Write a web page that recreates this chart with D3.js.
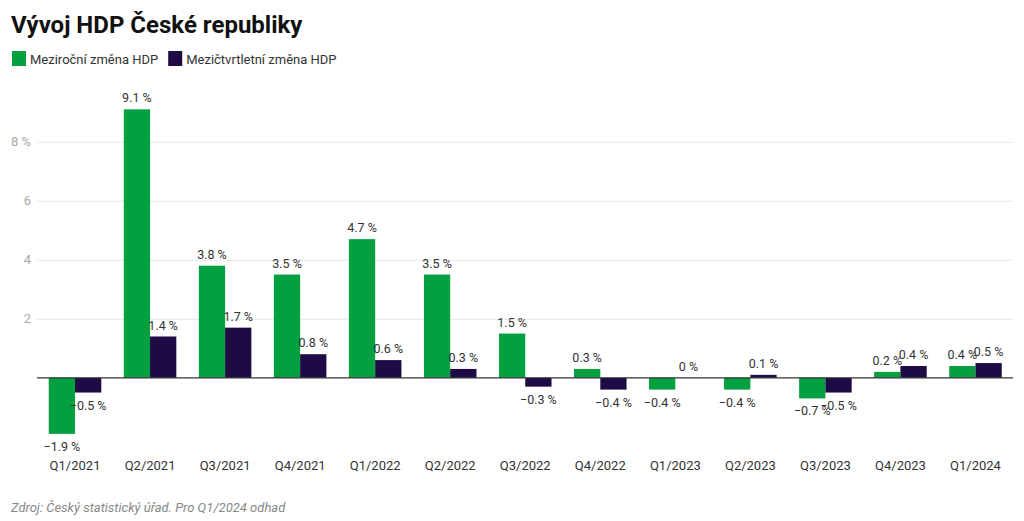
<!DOCTYPE html>
<html><head><meta charset="utf-8">
<script src="https://cdn.jsdelivr.net/npm/d3@7"></script>
<style>
html,body{margin:0;padding:0;background:#fff;}
svg{display:block;font-family:Roboto,"Noto Sans",sans-serif;}
</style></head>
<body><svg id="c" width="1024" height="521"></svg>
<script>
const categories = ["Q1/2021","Q2/2021","Q3/2021","Q4/2021","Q1/2022","Q2/2022","Q3/2022","Q4/2022","Q1/2023","Q2/2023","Q3/2023","Q4/2023","Q1/2024"];
const yoy = [-1.9, 9.1, 3.8, 3.5, 4.7, 3.5, 1.5, 0.3, -0.4, -0.4, -0.7, 0.2, 0.4];
const qoq = [-0.5, 1.4, 1.7, 0.8, 0.6, 0.3, -0.3, -0.4, 0, 0.1, -0.5, 0.4, 0.5];
const seriesNames = ["Meziroční změna HDP", "Mezičtvrtletní změna HDP"];
const yTicks = [2, 4, 6, 8];
const colors = ["#03a03f", "#1e0b46"];

const svg = d3.select("#c");
const x = d3.scaleBand().domain(categories).range([37.5, 1013]).paddingInner(0.3).paddingOuter(0.15);
const xs = d3.scaleBand().domain([0,1]).range([0, x.bandwidth()]);
const y = d3.scaleLinear().domain([0, 8]).range([377.8, 141.8]);

// title
svg.append("text").attr("x", 11).attr("y", 33).attr("font-size", 24).attr("font-weight", 700)
  .attr("fill", "#111").text("Vývoj HDP České republiky");

// legend
const lg = svg.append("g");
let lx = 12;
seriesNames.forEach((n, i) => {
  const g = lg.append("g").attr("transform", `translate(${lx},51)`);
  g.append("rect").attr("width", 14).attr("height", 15).attr("fill", colors[i]);
  const t = g.append("text").attr("x", 18).attr("y", 12.5).attr("font-size", 13).attr("fill", "#333").text(n);
  lx += 18 + t.node().getComputedTextLength() + 10;
});

// gridlines
const yAxis = d3.axisLeft(y).tickValues(yTicks).tickSize(-(1013 - 37)).tickFormat(d => d === 8 ? "8 %" : d);
const ga = svg.append("g").attr("transform", "translate(37,0)").call(yAxis);
ga.select(".domain").remove();
ga.selectAll(".tick line").attr("stroke", "#e6e6e6");
ga.selectAll(".tick text").attr("x", -6).attr("font-size", 13).attr("fill", "#a8a8a8").attr("font-family", "Roboto");

// bars
const groups = svg.append("g").selectAll("g").data(categories).join("g")
  .attr("transform", d => `translate(${x(d)},0)`);
[yoy, qoq].forEach((arr, si) => {
  groups.append("rect")
    .attr("x", xs(si)).attr("width", xs.bandwidth())
    .attr("y", (d, i) => y(Math.max(0, arr[i])))
    .attr("height", (d, i) => Math.abs(y(arr[i]) - y(0)))
    .attr("fill", colors[si]);
});

// zero line
svg.append("line").attr("x1", 37).attr("x2", 1013).attr("y1", y(0)).attr("y2", y(0))
  .attr("stroke", "#333").attr("stroke-width", 1.2);

// value labels
const fmt = v => (v < 0 ? "\u2212" + String(Math.abs(v)) : String(v)) + " %";
[yoy, qoq].forEach((arr, si) => {
  groups.append("text")
    .attr("x", xs(si) + xs.bandwidth() / 2)
    .attr("y", (d, i) => arr[i] >= 0 ? y(arr[i]) - 7 : y(arr[i]) + 17)
    .attr("text-anchor", "middle").attr("font-size", 12.5).attr("fill", "#333")
    .text((d, i) => fmt(arr[i]));
});

// x labels
const xAxis = d3.axisBottom(x).tickSize(0);
const gx = svg.append("g").attr("transform", "translate(0,458)").call(xAxis);
gx.select(".domain").remove();
gx.selectAll(".tick text").attr("font-size", 13).attr("fill", "#333").attr("font-family", "Roboto").attr("dy", "0.71em");

// source
svg.append("text").attr("x", 11).attr("y", 512).attr("font-size", 13).attr("font-style", "italic")
  .attr("fill", "#888").text("Zdroj: Český statistický úřad. Pro Q1/2024 odhad");
</script></body></html>
